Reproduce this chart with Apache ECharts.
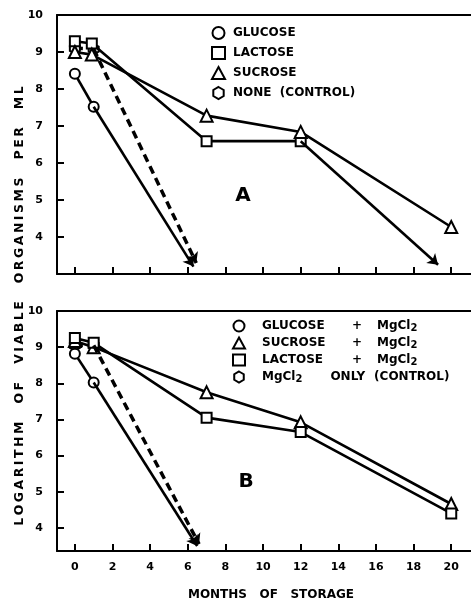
<!DOCTYPE html>
<html>
<head>
<meta charset="utf-8">
<script src="https://cdn.jsdelivr.net/npm/echarts@6/dist/echarts.min.js"></script>
<style>html,body{margin:0;padding:0;background:#fff;}#c{width:471px;height:602px;}</style>
</head>
<body>
<div id="c"></div>
<script>
// ---- Panel A data (months, log viable organisms per ml) ----
const monthsGlucoseA = [0, 1];
const glucoseA = [8.41, 7.52];
const glucoseAEnd = [6.3, 3.2];
const monthsLactoseA = [0, 0.9, 7, 12];
const lactoseA = [9.29, 9.23, 6.59, 6.59];
const lactoseAEnd = [19.3, 3.25];
const monthsSucroseA = [0, 0.9, 7, 12, 20];
const sucroseA = [9.0, 8.93, 7.28, 6.84, 4.27];
const monthsControlA = [0, 1];
const controlA = [9.1, 9.08];
const controlAEnd = [6.45, 3.3];

// ---- Panel B data ----
const monthsGlucoseB = [0, 1];
const glucoseB = [8.82, 8.02];
const glucoseBEnd = [6.5, 3.5];
const monthsSucroseB = [0, 1, 7, 12, 20];
const sucroseB = [9.17, 9.0, 7.75, 6.92, 4.66];
const monthsLactoseB = [0, 1, 7, 12, 20];
const lactoseB = [9.25, 9.12, 7.05, 6.65, 4.4];
const monthsControlB = [0, 1];
const controlB = [9.05, 9.05];
const controlBEnd = [6.6, 3.55];

// ---- Axis ticks ----
const xTicks = [0, 2, 4, 6, 8, 10, 12, 14, 16, 18, 20];
const yTicks = [4, 5, 6, 7, 8, 9, 10];
const legendA = ['GLUCOSE', 'LACTOSE', 'SUCROSE', 'NONE  (CONTROL)'];
const legendB = ['GLUCOSE + MgCl2', 'SUCROSE + MgCl2', 'LACTOSE + MgCl2', 'MgCl2 ONLY (CONTROL)'];

const HEX = 'path://M0,-10 L8.66,-5 L8.66,5 L0,10 L-8.66,5 L-8.66,-5 Z';
const FONT = '"DejaVu Sans", sans-serif';

function pts(xs, ys) { return xs.map((x, i) => [x, ys[i]]); }

function spaced(s) {
  // thin spaces between letters, wider gaps between words
  return s.split(' ').map(w => w.split('').join('\u2009')).join('\u2009\u2009   ');
}

function lineSeries(name, xi, xs, ys, symbol, size, dashed, end) {
  const data = pts(xs, ys);
  const ls = { color: '#000', width: dashed ? 3.5 : 2.6, type: dashed ? [8, 5] : 'solid' };
  const s = {
    name: name, type: 'line', xAxisIndex: xi, yAxisIndex: xi,
    data: data, symbol: symbol, symbolSize: size, showAllSymbols: true,
    itemStyle: { color: '#fff', borderColor: '#000', borderWidth: 2 },
    lineStyle: ls,
    z: dashed ? 2 : 3,
    silent: true, animation: false
  };
  if (end) {
    s.markLine = {
      silent: true, animation: false,
      symbol: ['none', 'arrow'], symbolSize: 10,
      label: { show: false },
      itemStyle: { color: '#000' },
      lineStyle: ls,
      emphasis: { disabled: true },
      data: [[{ coord: data[data.length - 1] }, { coord: end }]]
    };
  }
  return s;
}

function xAxisFor(gi, labels) {
  return {
    type: 'value', gridIndex: gi, min: -0.95, max: 21.05,
    axisLine: { show: true, onZero: false, lineStyle: { color: '#000', width: 2 } },
    axisTick: { show: true, inside: true, length: 7, customValues: xTicks, lineStyle: { color: '#000', width: 2 } },
    axisLabel: { show: labels, customValues: xTicks, margin: 11, color: '#000', fontFamily: FONT, fontWeight: 'bold', fontSize: 11 },
    splitLine: { show: false },
    name: labels ? 'MONTHS   OF   STORAGE' : '',
    nameLocation: 'middle', nameGap: 38,
    nameTextStyle: { color: '#000', fontFamily: FONT, fontWeight: 'bold', fontSize: 12, padding: [0, 0, 0, 14] }
  };
}
function topAxisFor(gi) {
  return {
    type: 'value', gridIndex: gi, position: 'top', min: -0.95, max: 21.05,
    axisLine: { show: true, onZero: false, lineStyle: { color: '#000', width: 2 } },
    axisTick: { show: false }, axisLabel: { show: false }, splitLine: { show: false }
  };
}
function yAxisFor(gi, min) {
  return {
    type: 'value', gridIndex: gi, min: min, max: 10,
    axisLine: { show: true, onZero: false, lineStyle: { color: '#000', width: 2 } },
    axisTick: { show: true, inside: true, length: 7, customValues: yTicks, lineStyle: { color: '#000', width: 2 } },
    axisLabel: { customValues: yTicks, margin: 14, color: '#000', fontFamily: FONT, fontWeight: 'bold', fontSize: 11 },
    splitLine: { show: false }
  };
}

const chart = echarts.init(document.getElementById('c'), null, { renderer: 'canvas' });

const option = {
  backgroundColor: '#fff',
  animation: false,
  grid: [
    { left: 57, right: 0, top: 15, height: 259 },
    { left: 57, right: 0, top: 311, height: 244 }
  ],
  xAxis: [xAxisFor(0, false), xAxisFor(1, true), topAxisFor(0), topAxisFor(1)],
  yAxis: [yAxisFor(0, 3), yAxisFor(1, 3.36)],
  legend: [
    {
      orient: 'vertical', left: 206, top: 21, itemWidth: 13, itemHeight: 12, itemGap: 6,
      selectedMode: false,
      itemStyle: { color: '#fff', borderColor: '#000', borderWidth: 2 },
      textStyle: { color: '#000', fontFamily: FONT, fontWeight: 'bold', fontSize: 12, padding: [0, 0, 0, 3] },
      data: [
        { name: legendA[0], icon: 'circle' },
        { name: legendA[1], icon: 'rect' },
        { name: legendA[2], icon: 'triangle' },
        { name: legendA[3], icon: HEX }
      ]
    },
    {
      orient: 'vertical', left: 227, top: 313, itemWidth: 12, itemHeight: 11, itemGap: 2,
      selectedMode: false,
      itemStyle: { color: '#fff', borderColor: '#000', borderWidth: 2 },
      textStyle: {
        color: '#000', fontFamily: FONT, fontWeight: 'bold', fontSize: 12, padding: [0, 0, 0, 12],
        rich: {
          a: { width: 90, fontFamily: FONT, fontWeight: 'bold', fontSize: 12, color: '#000', lineHeight: 14 },
          p: { width: 25, fontFamily: FONT, fontWeight: 'bold', fontSize: 12, color: '#000', lineHeight: 14 },
          m: { fontFamily: FONT, fontWeight: 'bold', fontSize: 12, color: '#000', lineHeight: 14 },
          s: { fontFamily: FONT, fontWeight: 'bold', fontSize: 10, color: '#000', verticalAlign: 'bottom', padding: [5, 0, 0, 0], lineHeight: 10 },
          o: { fontFamily: FONT, fontWeight: 'bold', fontSize: 12, color: '#000', padding: [0, 9, 0, 28], lineHeight: 14 },
          c: { fontFamily: FONT, fontWeight: 'bold', fontSize: 12, color: '#000', lineHeight: 14 }
        }
      },
      formatter: function (name) {
        if (name === legendB[3]) return '{m|MgCl}{s|2}{o|ONLY}{c|(CONTROL)}';
        const sugar = name.split(' ')[0];
        return '{a|' + sugar + '}{p|+}{m|MgCl}{s|2}';
      },
      data: [
        { name: legendB[0], icon: 'circle' },
        { name: legendB[1], icon: 'triangle' },
        { name: legendB[2], icon: 'rect' },
        { name: legendB[3], icon: HEX }
      ]
    }
  ],
  graphic: [
    { type: 'text', x: 20, y: 306, rotation: Math.PI / 2, silent: true,
      style: { text: spaced('LOGARITHM OF VIABLE ORGANISMS PER ML'), x: 0, y: 0, align: 'center', verticalAlign: 'middle',
        fill: '#000', font: 'bold 12.5px "DejaVu Sans", sans-serif' } },
    { type: 'text', x: 243, y: 196, silent: true,
      style: { text: 'A', align: 'center', verticalAlign: 'middle', fill: '#000', font: 'bold 20px "DejaVu Sans", sans-serif' } },
    { type: 'text', x: 246, y: 482, silent: true,
      style: { text: 'B', align: 'center', verticalAlign: 'middle', fill: '#000', font: 'bold 20px "DejaVu Sans", sans-serif' } }
  ],
  series: [
    lineSeries(legendA[0], 0, monthsGlucoseA, glucoseA, 'circle', 10, false, glucoseAEnd),
    lineSeries(legendA[1], 0, monthsLactoseA, lactoseA, 'rect', 10, false, lactoseAEnd),
    lineSeries(legendA[2], 0, monthsSucroseA, sucroseA, 'triangle', 12, false, null),
    lineSeries(legendA[3], 0, monthsControlA, controlA, HEX, 10, true, controlAEnd),
    lineSeries(legendB[0], 1, monthsGlucoseB, glucoseB, 'circle', 10, false, glucoseBEnd),
    lineSeries(legendB[1], 1, monthsSucroseB, sucroseB, 'triangle', 12, false, null),
    lineSeries(legendB[2], 1, monthsLactoseB, lactoseB, 'rect', 10, false, null),
    lineSeries(legendB[3], 1, monthsControlB, controlB, HEX, 10, true, controlBEnd)
  ]
};
chart.setOption(option);
</script>
</body>
</html>
